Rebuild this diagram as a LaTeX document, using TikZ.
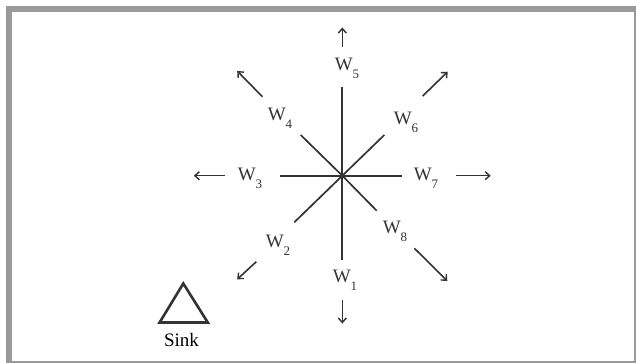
\documentclass[tikz,border=0pt]{standalone}
\usepackage{fontspec}
\setmainfont{Liberation Serif}
\usetikzlibrary{arrows.meta}
\definecolor{framegray}{HTML}{9A9A9A}
\definecolor{ink}{HTML}{333333}
\newcommand{\wlab}[1]{W\raisebox{-0.42em}{\fontsize{13}{13}\selectfont #1}}
\tikzset{
  axis/.style={draw=ink, line width=1.7pt},
  flow/.style={draw=ink, line width=1.6pt, -{Straight Barb[length=4.5pt,width=8pt,line width=1.4pt]}},
  lab/.style={text=ink, font=\fontsize{19}{19}\selectfont, inner sep=0pt},
}
\begin{document}
\begin{tikzpicture}[x=1pt,y=-1pt]
\useasboundingbox (0,0) rectangle (636,363);
\fill[white] (0,0) rectangle (636,363);
% frame
\fill[framegray] (6,6) rectangle (636,12);
\fill[framegray] (6,6) rectangle (12,363);
\fill[framegray] (6,360.5) rectangle (636,363);
\fill[framegray] (634,6) rectangle (636,363);
% center and axis ends
\coordinate (c) at (342.3,175.7);
\coordinate (e5) at (342.3,87);
\coordinate (e1) at (342.3,260);
\coordinate (e3) at (280,175.7);
\coordinate (e7) at (401.5,175.7);
\coordinate (e4) at (300.7,135);
\coordinate (e6) at (384.3,135);
\coordinate (e2) at (294.3,222.3);
\coordinate (e8) at (376.7,210.7);
\foreach \e in {e1,e2,e3,e4,e5,e6,e7,e8} \draw[axis] (c) -- (\e);
% labels
\node[lab] (w5) at (347,68) {\wlab{5}};
\node[lab] (w6) at (406,122) {\wlab{6}};
\node[lab] (w7) at (426,178) {\wlab{7}};
\node[lab] (w8) at (395,231) {\wlab{8}};
\node[lab] (w1) at (345,280) {\wlab{1}};
\node[lab] (w2) at (278,245) {\wlab{2}};
\node[lab] (w3) at (250,178) {\wlab{3}};
\node[lab] (w4) at (280,118) {\wlab{4}};
% arrows
\coordinate (a5s) at (342.3,46.7); \coordinate (a5t) at (342.3,27.5);
\coordinate (a6s) at (422.7,96);   \coordinate (a6t) at (447.7,71.7);
\coordinate (a7s) at (456.2,175.7); \coordinate (a7t) at (490.7,175.7);
\coordinate (a8s) at (414.4,248.3); \coordinate (a8t) at (447.3,281);
\coordinate (a1s) at (342.3,300);  \coordinate (a1t) at (342.3,323.5);
\coordinate (a2s) at (256.3,261.7); \coordinate (a2t) at (237.2,279.3);
\coordinate (a3s) at (225,175.7);  \coordinate (a3t) at (193.8,175.7);
\coordinate (a4s) at (262.4,96.7); \coordinate (a4t) at (237.2,71);
\foreach \n in {1,...,8} \draw[flow] (a\n s) -- (a\n t);
% sink
\coordinate (s1) at (183.3,283.5);
\coordinate (s2) at (159.6,322.5);
\coordinate (s3) at (207.8,322.5);
\draw[ink, line width=2.6pt, line join=miter] (s1) -- (s2) -- (s3) -- cycle;
\node[lab, text=black] (sink) at (181.5,339.5) {Sink};
\end{tikzpicture}
\end{document}
